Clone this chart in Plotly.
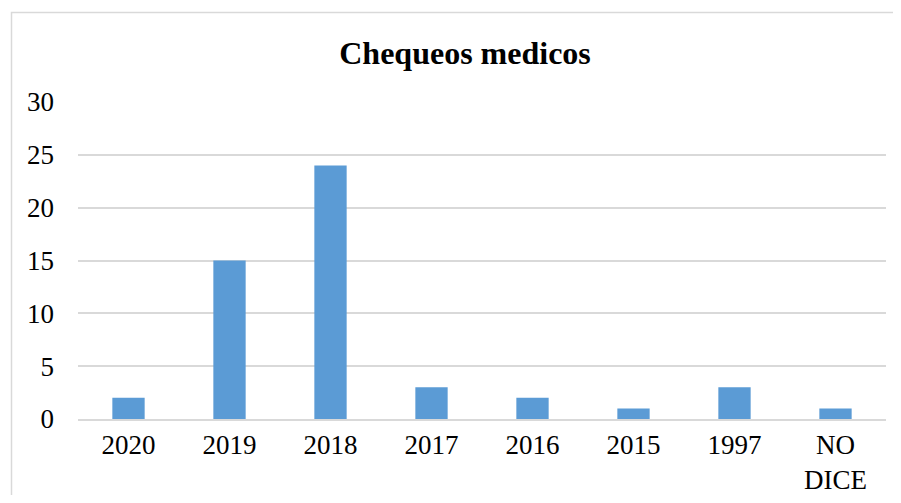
import plotly.graph_objects as go

# Data
categories = ['2020', '2019', '2018', '2017', '2016', '2015', '1997', 'NO<br>DICE']
values = [2, 15, 24, 3, 2, 1, 3, 1]
y_ticks = [0, 5, 10, 15, 20, 25, 30]

FONT = "Liberation Serif, Times New Roman, serif"
BAR_COLOR = "#5B9BD5"
GRID_COLOR = "#D9D9D9"

fig = go.Figure(go.Bar(
    x=categories,
    y=values,
    marker=dict(color=BAR_COLOR, line=dict(width=0)),
))

# the page puts an 8px body margin around the figure; size it so nothing overflows
OFF = 8
W, H = 901 - 2 * OFF, 503 - 2 * OFF
# plot area on screen: x 78..886, y 102..419
L, R, T, B = 78 - OFF, W + OFF - 886, 102 - OFF, H + OFF - 419
pw, ph = W - L - R, H - T - B

def px_x(p):
    return (p - OFF - L) / pw

def px_y(p):
    return (H - B - (p - OFF)) / ph

# outer chart border (Excel style), open to the right and bottom like the crop
fig.add_shape(type="path", xref="paper", yref="paper",
              path=f"M {px_x(11.5)},{px_y(540)} L {px_x(11.5)},{px_y(12.5)} L {px_x(930)},{px_y(12.5)}",
              line=dict(color=GRID_COLOR, width=1.5), layer="below")

fig.update_layout(
    width=W, height=H,
    margin=dict(l=L, r=R, t=T, b=B),
    paper_bgcolor="white",
    plot_bgcolor="white",
    font=dict(family=FONT, size=27, color="black"),
    bargap=0.68,
    showlegend=False,
    title=dict(text="<b>Chequeos medicos</b>", x=(465 - OFF) / W,
               xanchor="center", y=1 - (53 - OFF) / H, yanchor="middle",
               font=dict(family=FONT, size=32, color="black")),
)

fig.update_xaxes(showgrid=False, showline=True, linecolor=GRID_COLOR, linewidth=1.5,
                 ticks="", tickfont=dict(size=27), ticklabelstandoff=1, automargin=False)
fig.update_yaxes(range=[0, 30], tickvals=y_ticks, showgrid=True, gridcolor=GRID_COLOR,
                 gridwidth=1.5, zeroline=False, showline=False, ticks="",
                 tickfont=dict(size=27), ticklabelstandoff=23, automargin=False)

fig.write_html("out.html")
